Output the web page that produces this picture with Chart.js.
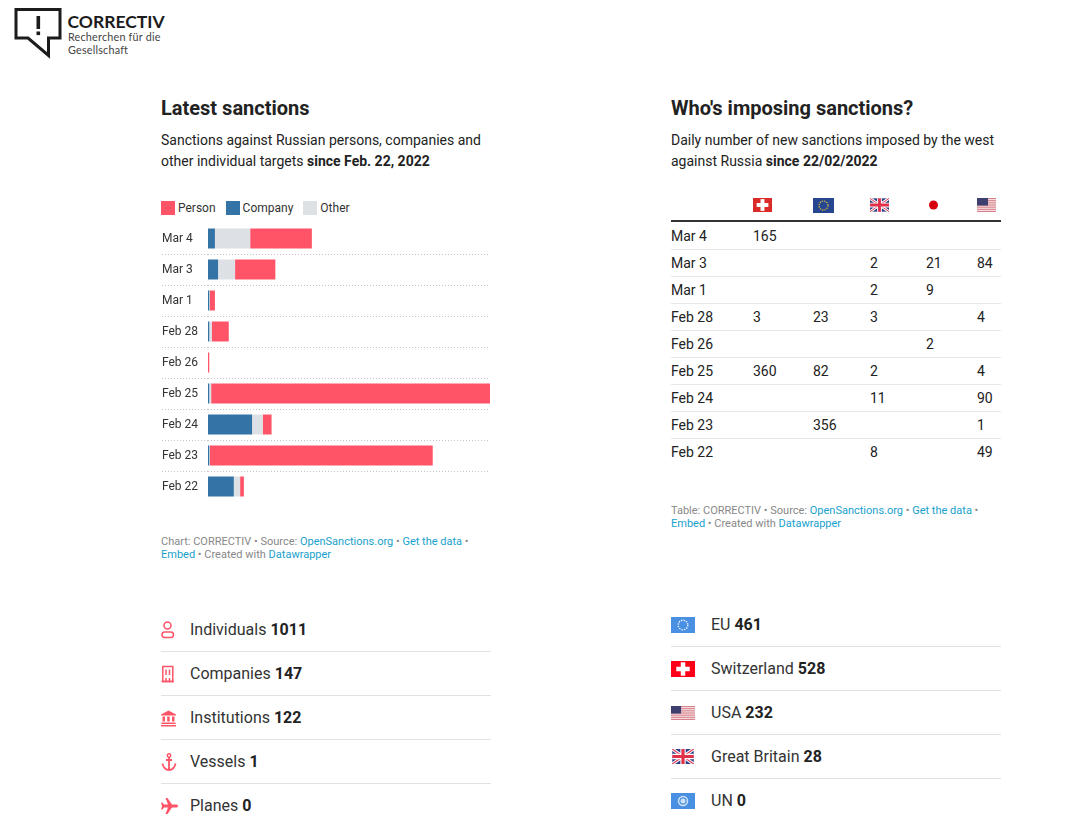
<!DOCTYPE html>
<html>
<head>
<meta charset="utf-8">
<title>Sanctions against Russia</title>
<script src="https://cdn.jsdelivr.net/npm/chart.js@4"></script>
<style>
  html, body { margin: 0; padding: 0; background: #fff; overflow: hidden; }
  body { width: 1075px; height: 838px; position: relative; font-family: Roboto, sans-serif; color: #222; }
  .abs { position: absolute; }
  h2 { position: absolute; margin: 0; font-size: 20px; line-height: 24px; font-weight: 700; color: #222; }
  .desc { position: absolute; width: 345px; font-size: 14px; line-height: 21px; color: #222; }
  .note { position: absolute; width: 330px; font-size: 11px; line-height: 13px; color: #888; }
  .note a { color: #18a1cd; text-decoration: none; }
  #legend { left: 161px; top: 201px; display: flex; font-size: 12px; line-height: 14px; color: #333; }
  #legend span { display: flex; }
  #legend i { display: block; width: 14px; height: 14px; margin-right: 3px; }
  #legend span + span { margin-left: 10px; }
  #chart { position: absolute; left: 162px; top: 223px; }
  #table { position: absolute; left: 671px; top: 198px; width: 330px; font-size: 14px; color: #222; }
  .row { display: grid; grid-template-columns: 82px 60px 57px 56px 51px 24px; height: 26px; line-height: 26px; border-bottom: 1px solid #e8e8e8; }
  .row:last-child { border-bottom: 0; }
  .row.head { height: 22px; line-height: 0; border-bottom: 2px solid #333; margin-bottom: 1px; }
  .row.head svg { display: block; }
  .stats { position: absolute; width: 330px; font-size: 16px; color: #333; }
  .stat { height: 43px; border-bottom: 1px solid #e2e2e2; display: flex; align-items: center; }
  .stat:last-child { border-bottom: 0; }
  .stat b { color: #222; }
  .stat svg { flex: none; }
</style>
</head>
<body>

<svg class="abs" style="left:0;top:0" width="66" height="62" viewBox="0 0 66 62">
  <path d="M16 9.500H60V38H48.500V55.500L28 38H16Z" fill="none" stroke="#1c1c1c" stroke-width="3"/>
  <rect x="36.500" y="16" width="3.600" height="13" fill="#1c1c1c"/>
  <rect x="36.500" y="31.500" width="3.600" height="3.600" fill="#1c1c1c"/>
</svg>
<div class="abs" style="left:67.500px;top:11px;font:700 17.500px/22px Lato,sans-serif;color:#1c1c1c">CORRECTIV</div>
<div class="abs" style="left:68px;top:31px;font:400 10.800px/12.500px Lato,sans-serif;letter-spacing:.2px;color:#444">Recherchen für die<br>Gesellschaft</div>

<h2 style="left:161px;top:96px">Latest sanctions</h2>
<div class="desc" style="left:161px;top:130px">Sanctions against Russian persons, companies and<br>other individual targets <b>since Feb. 22, 2022</b></div>
<div id="legend" class="abs"></div>
<canvas id="chart" width="328" height="279"></canvas>
<div class="note" style="left:161px;top:535px">Chart: CORRECTIV • Source: <a>OpenSanctions.org</a> • <a>Get the data</a> •<br><a>Embed</a> • Created with <a>Datawrapper</a></div>

<h2 style="left:671px;top:96px">Who's imposing sanctions?</h2>
<div class="desc" style="left:671px;top:130px">Daily number of new sanctions imposed by the west<br>against Russia <b>since 22/02/2022</b></div>
<div id="table"></div>
<div class="note" style="left:671px;top:504px">Table: CORRECTIV • Source: <a>OpenSanctions.org</a> • <a>Get the data</a> •<br><a>Embed</a> • Created with <a>Datawrapper</a></div>

<div id="statsLeft" class="stats" style="left:161px;top:608px"></div>
<div id="statsRight" class="stats" style="left:671px;top:603px"></div>

<script>
// bar chart
const dates = ['Mar 4', 'Mar 3', 'Mar 1', 'Feb 28', 'Feb 26', 'Feb 25', 'Feb 24', 'Feb 23', 'Feb 22'];
const company = [11, 16, 2, 2, 0, 2, 70, 2, 41];
const other = [56, 27, 1, 4, 0, 3, 17, 1, 10];
const person = [98, 64, 8, 27, 2, 443, 14, 354, 6];

// table columns
const swiss = [165, null, null, 3, null, 360, null, null, null];
const eu = [null, null, null, 23, null, 82, null, 356, null];
const uk = [null, 2, 2, 3, null, 2, 11, null, 8];
const japan = [null, 21, 9, null, 2, null, null, null, null];
const usa = [null, 84, null, 4, null, 4, 90, 1, 49];

// totals lists
const targetLabels = ['Individuals', 'Companies', 'Institutions', 'Vessels', 'Planes'];
const targetValues = [1011, 147, 122, 1, 0];
const senderLabels = ['EU', 'Switzerland', 'USA', 'Great Britain', 'UN'];
const senderValues = [461, 528, 232, 28, 0];

const RED = '#ff5468', BLUE = '#3373a5', GREY = '#dde0e5';

// ---- flags
function flagSwiss(w, h, bg) {
  const cx = w / 2, cy = h / 2, a = h * 0.42, b = h * 0.14;
  return `<svg width="${w}" height="${h}"><rect width="${w}" height="${h}" fill="${bg}"/>
    <rect x="${cx - a}" y="${cy - b}" width="${a * 2}" height="${b * 2}" fill="#fff"/>
    <rect x="${cx - b}" y="${cy - a}" width="${b * 2}" height="${a * 2}" fill="#fff"/></svg>`;
}
function flagEu(w, h, bg, star) {
  const r = h * 0.3;
  return `<svg width="${w}" height="${h}"><rect width="${w}" height="${h}" fill="${bg}"/>
    <circle cx="${w / 2}" cy="${h / 2}" r="${r}" fill="none" stroke="${star}" stroke-width="1.300" stroke-dasharray="1.300 ${(2 * Math.PI * r / 12 - 1.3).toFixed(2)}"/></svg>`;
}
function flagUk(w, h) {
  return `<svg width="${w}" height="${h}" viewBox="0 0 20 14"><rect width="20" height="14" fill="#2b3f86"/>
    <path d="M0 0L20 14M20 0L0 14" stroke="#fff" stroke-width="3"/>
    <path d="M0 0L20 14M20 0L0 14" stroke="#e0304a" stroke-width="1"/>
    <path d="M10 0V14M0 7H20" stroke="#fff" stroke-width="5"/>
    <path d="M10 0V14M0 7H20" stroke="#e0304a" stroke-width="3"/></svg>`;
}
function flagJapan(w, h) {
  return `<svg width="${w}" height="${h}"><circle cx="${w / 2 - 2}" cy="${h / 2}" r="4.500" fill="#d7000f"/></svg>`;
}
function flagUsa(w, h, canton) {
  let stripes = '';
  for (let i = 0; i < 7; i++) stripes += `<rect y="${i * h / 6.5}" width="${w}" height="${h / 13}" fill="#d9808a"/>`;
  return `<svg width="${w}" height="${h}"><rect width="${w}" height="${h}" fill="#f6e4e6"/>${stripes}
    <rect width="${w * canton}" height="${h * 0.54}" fill="#3d3f6f"/></svg>`;
}
function flagUn(w, h) {
  return `<svg width="${w}" height="${h}"><rect width="${w}" height="${h}" fill="#4a90e2"/>
    <circle cx="${w / 2}" cy="${h / 2}" r="4.500" fill="none" stroke="#cfe2f8" stroke-width="1.500"/>
    <circle cx="${w / 2}" cy="${h / 2}" r="2.500" fill="#cfe2f8"/></svg>`;
}

// ---- icons for the left list
const iconStart = `<svg width="29" height="20" viewBox="0 0 29 20" fill="none" stroke="${RED}" stroke-width="1.500">`;
const icons = [
  iconStart + `<circle cx="6.500" cy="5.500" r="3.500"/><rect x="1" y="12" width="11.500" height="5.500" rx="2.700"/></svg>`,
  iconStart + `<rect x="1.800" y="2.500" width="10" height="15"/><path d="M0.500 17.500H13M5 5.500V11M8.500 5.500V11M5 14V17M8.500 14V17"/></svg>`,
  `<svg width="29" height="20" viewBox="0 0 29 20" fill="${RED}"><path d="M7.500 2.500L15 6.500V7.500H0V6.500Z"/><rect x="1.500" y="8.500" width="2.500" height="5"/><rect x="6.200" y="8.500" width="2.500" height="5"/><rect x="11" y="8.500" width="2.500" height="5"/><rect x="0.500" y="14.500" width="14" height="1.500"/><rect y="17" width="15" height="1.500"/></svg>`,
  iconStart + `<circle cx="8" cy="3.500" r="1.700"/><path d="M8 5V18M5 8H11M1.500 11.500C2 15.500 5 18 8 18C11 18 14 15.500 14.500 11.500" stroke-width="1.800"/></svg>`,
  `<svg width="29" height="20" viewBox="0 0 29 20" fill="${RED}"><path d="M17 10C17 9 16 8.500 15 8.500H11L6.500 2H4.500L7 8.500H3L1.500 6.500H0L1 10L0 13.500H1.500L3 11.500H7L4.500 18H6.500L11 11.500H15C16 11.500 17 11 17 10Z"/></svg>`
];

// ---- legend
document.getElementById('legend').innerHTML = [['Person', RED], ['Company', BLUE], ['Other', GREY]]
  .map(d => `<span><i style="background:${d[1]}"></i>${d[0]}</span>`).join('');

// ---- table
const columns = [swiss, eu, uk, japan, usa];
const headFlags = [flagSwiss(19, 14, '#d92b27'), flagEu(21, 15, '#26468f', '#d9b53a'), flagUk(19, 14), flagJapan(19, 14), flagUsa(19, 14, 0.58)];
let tableHtml = `<div class="row head"><div></div>${headFlags.map(f => `<div>${f}</div>`).join('')}</div>`;
dates.forEach((d, i) => {
  tableHtml += `<div class="row"><div>${d}</div>${columns.map(c => `<div>${c[i] === null ? '' : c[i]}</div>`).join('')}</div>`;
});
document.getElementById('table').innerHTML = tableHtml;

// ---- totals
document.getElementById('statsLeft').innerHTML = targetLabels.map((l, i) =>
  `<div class="stat">${icons[i]}<span>${l} <b>${targetValues[i]}</b></span></div>`).join('');
const senderFlags = [flagEu(24, 16, '#4a90e2', '#fff'), flagSwiss(24, 16, '#ff0019'), flagUsa(24, 14, 0.42), flagUk(24, 15), flagUn(24, 16)];
document.getElementById('statsRight').innerHTML = senderLabels.map((l, i) =>
  `<div class="stat">${senderFlags[i]}<span style="margin-left:16px">${l} <b>${senderValues[i]}</b></span></div>`).join('');

// ---- chart
const innerRule = ctx => (ctx.index === 0 || ctx.index === dates.length) ? 'rgba(0,0,0,0)' : '#c4c4c4';

new Chart(document.getElementById('chart'), {
  type: 'bar',
  data: {
    labels: dates,
    datasets: [
      { label: 'Company', data: company, backgroundColor: BLUE },
      { label: 'Other', data: other, backgroundColor: GREY },
      { label: 'Person', data: person, backgroundColor: RED }
    ]
  },
  options: {
    indexAxis: 'y',
    responsive: false,
    animation: false,
    layout: { padding: 0 },
    datasets: { bar: { barThickness: 20, borderWidth: 0, inflateAmount: 0 } },
    plugins: { legend: { display: false }, tooltip: { enabled: false } },
    scales: {
      x: { display: false, stacked: true, min: 0, max: 448 },
      y: {
        stacked: true,
        afterFit: scale => {
          // rows fill the whole canvas, no room kept for the end labels
          scale.width = 46;
          scale.paddingTop = 0;
          scale.paddingBottom = 0;
        },
        border: { display: false, dash: [1, 2] },
        grid: {
          offset: true,
          color: innerRule,
          tickColor: innerRule,
          tickLength: 46,
          tickBorderDash: [1, 2],
          lineWidth: 1
        },
        ticks: {
          crossAlign: 'far',
          padding: 0,
          color: '#333',
          font: { family: 'Roboto', size: 12 }
        }
      }
    }
  }
});
</script>
</body>
</html>
